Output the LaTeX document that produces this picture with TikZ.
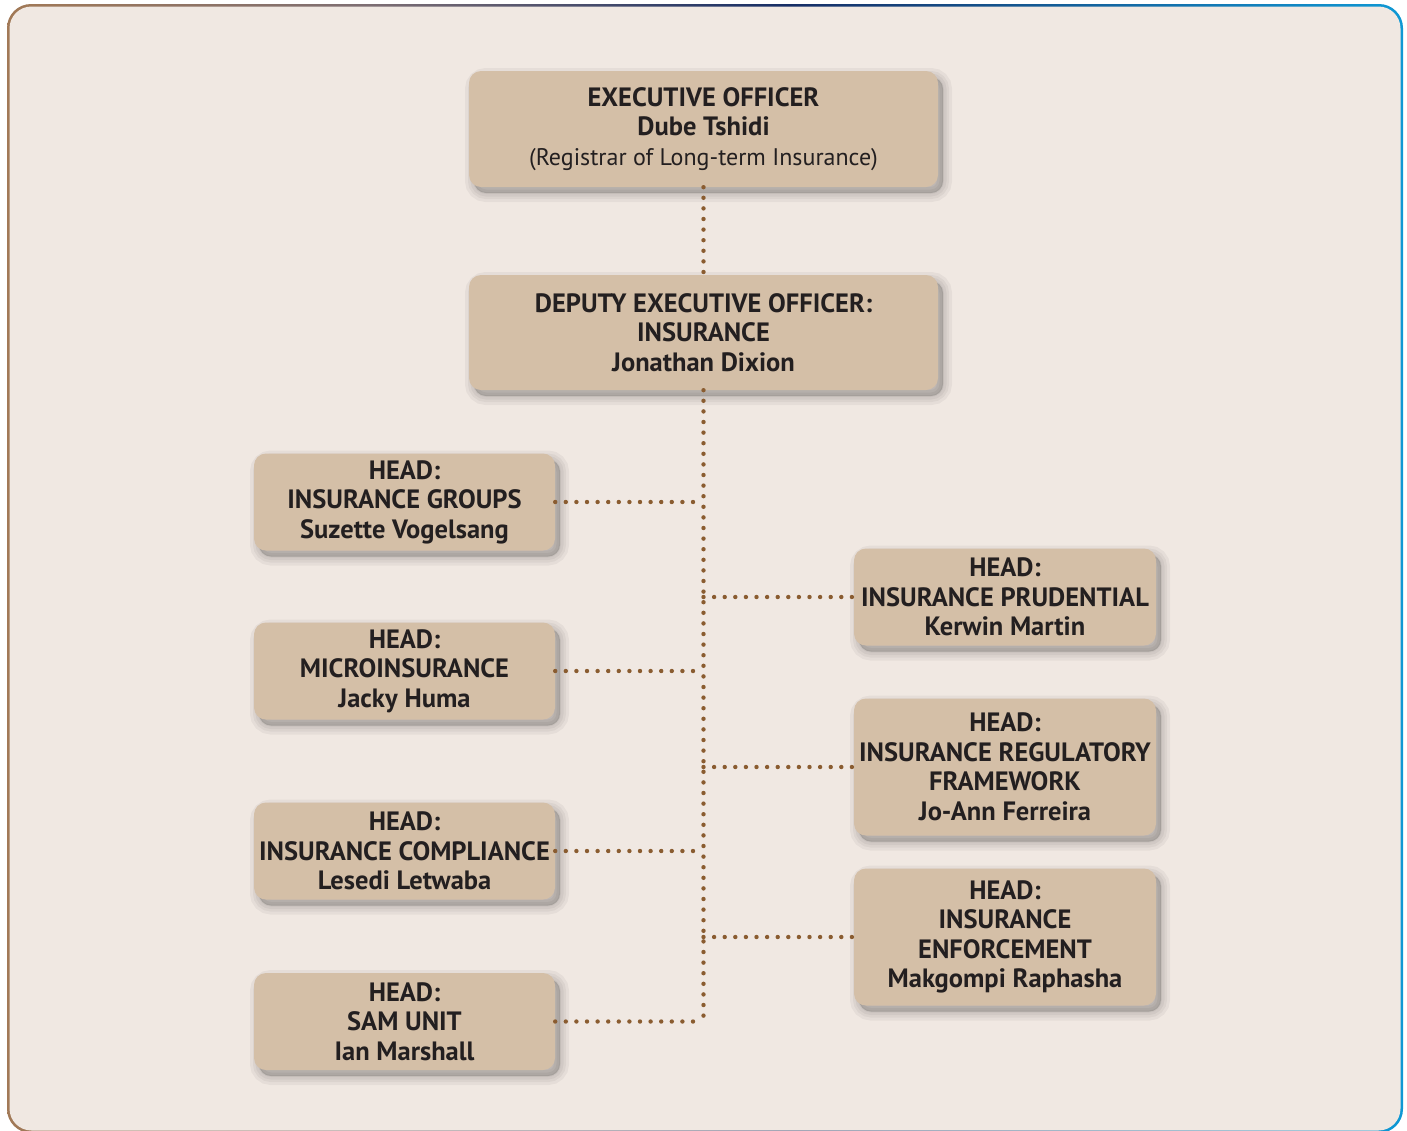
\documentclass[tikz,border=0pt]{standalone}
\usepackage{fontspec}
\setmainfont{PT Sans}
\usetikzlibrary{positioning}

\definecolor{pagebg}{RGB}{240,232,226}
\definecolor{boxfill}{RGB}{212,191,167}
\definecolor{dotbrown}{RGB}{138,92,48}
\definecolor{inkdark}{RGB}{35,31,32}
\definecolor{rimbrown}{RGB}{170,124,80}
\definecolor{rimgrey}{RGB}{125,110,115}
\definecolor{rimnavy}{RGB}{22,46,102}
\definecolor{rimblue}{RGB}{18,120,180}
\definecolor{rimcyan}{RGB}{12,176,236}

\pgfdeclarehorizontalshading{rimshade}{100bp}{%
  color(0bp)=(rimbrown); color(22bp)=(rimbrown); color(38bp)=(rimgrey);
  color(53bp)=(rimnavy); color(68bp)=(rimblue); color(80bp)=(rimcyan);
  color(100bp)=(rimcyan)}

\newcommand{\regtext}[1]{{\fontsize{24}{29.5}\selectfont\mdseries #1}}

\begin{document}
\begin{tikzpicture}[
  x=1pt, y=-1pt,
  softshade/.style={preaction={draw=black, fill=black, line width=#1, opacity=0.045,
    transform canvas={shift={(5pt,-6pt)}}}},
  box/.style={fill=boxfill, rounded corners=12pt, align=center, text=inkdark,
    inner sep=0pt, font=\fontsize{26.5}{29.5}\selectfont\bfseries,
    softshade=18pt, softshade=12pt, softshade=7pt, softshade=2pt},
  link/.style={dotbrown, line width=4.4pt, line cap=round, dash pattern=on 0pt off 10.6pt}
]
\useasboundingbox (0,0) rectangle (1407,1130);

% frame
\shade[shading=rimshade, rounded corners=24pt] (7,4) rectangle (1403,1133);
\fill[pagebg, rounded corners=22pt] (9.5,6.5) rectangle (1400.5,1130.5);

% boxes
\node[box, minimum width=469pt, minimum height=116pt] (eo) at (703.5,129)
  {EXECUTIVE OFFICER\\ Dube Tshidi\\ \regtext{(Registrar of Long-term Insurance)}};
\node[box, minimum width=469pt, minimum height=115pt] (deo) at (703.5,332.5)
  {DEPUTY EXECUTIVE OFFICER:\\ INSURANCE\\ Jonathan Dixion};

\node[box, minimum width=301pt, minimum height=97pt] (groups) at (404.5,502)
  {HEAD:\\ INSURANCE GROUPS\\ Suzette Vogelsang};
\node[box, minimum width=301pt, minimum height=97pt] (micro) at (404.5,671)
  {HEAD:\\ MICROINSURANCE\\ Jacky Huma};
\node[box, minimum width=301pt, minimum height=97pt] (compl) at (404.5,851)
  {HEAD:\\ INSURANCE COMPLIANCE\\ Lesedi Letwaba};
\node[box, minimum width=301pt, minimum height=97pt] (sam) at (404.5,1021.5)
  {HEAD:\\ SAM UNIT\\ Ian Marshall};

\node[box, minimum width=302pt, minimum height=97pt] (prud) at (1005,597)
  {HEAD:\\ INSURANCE PRUDENTIAL\\ Kerwin Martin};
\node[box, minimum width=302pt, minimum height=137pt] (regul) at (1005,767)
  {HEAD:\\ INSURANCE REGULATORY\\ FRAMEWORK\\ Jo-Ann Ferreira};
\node[box, minimum width=302pt, minimum height=137pt] (enforce) at (1005,937)
  {HEAD:\\ INSURANCE\\ ENFORCEMENT\\ Makgompi Raphasha};

% connectors
\draw[link] (eo.south) -- (deo.north);
\draw[link] (deo.south) -- (deo.south |- sam.east);
\draw[link] (groups.east) -- (groups.east -| deo.south);
\draw[link] (micro.east) -- (micro.east -| deo.south);
\draw[link] (compl.east) -- (compl.east -| deo.south);
\draw[link] (sam.east) -- (sam.east -| deo.south);
\draw[link] (prud.west -| deo.south) -- (prud.west);
\draw[link] (regul.west -| deo.south) -- (regul.west);
\draw[link] (enforce.west -| deo.south) -- (enforce.west);
\end{tikzpicture}
\end{document}
